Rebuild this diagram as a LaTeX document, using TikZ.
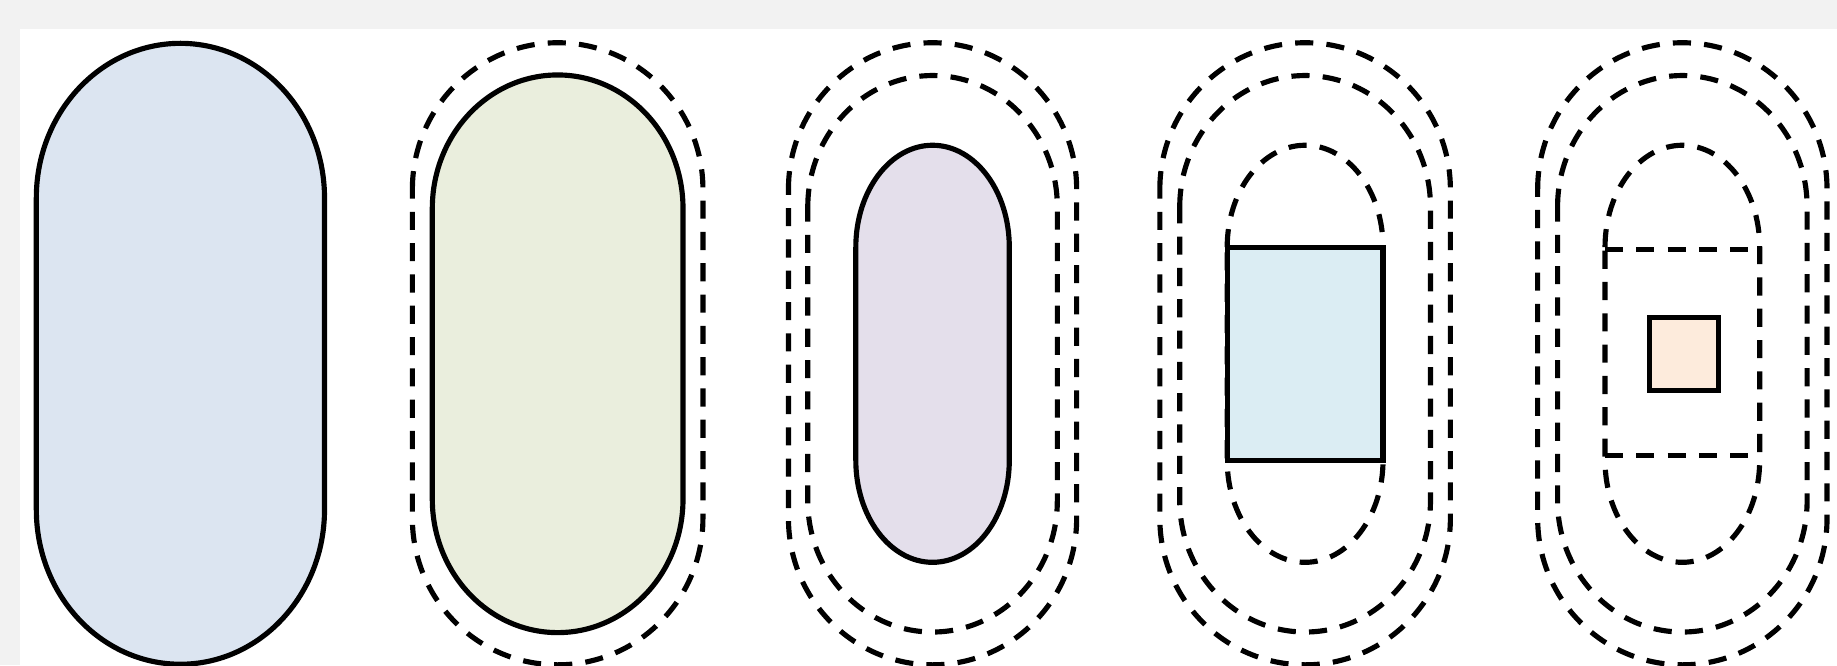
\documentclass[tikz,border=0pt]{standalone}
\usepackage{tikz}
\usetikzlibrary{calc}

\definecolor{fond}{HTML}{F2F2F2}
\definecolor{capbleu}{HTML}{DCE5F1}
\definecolor{capvert}{HTML}{EAEEDD}
\definecolor{capmauve}{HTML}{E4DFEB}
\definecolor{rectbleu}{HTML}{DBEDF3}
\definecolor{rectorange}{HTML}{FDEBDC}

% gelule : centre x, rayon x, demi-hauteur, rayon y (centre y commun)
\newcommand{\gelule}[4]{%
  ({#1-#2},{266+#3-#4}) arc[start angle=180, end angle=0, x radius=#2, y radius=#4]
  -- ({#1+#2},{266-#3+#4}) arc[start angle=0, end angle=-180, x radius=#2, y radius=#4]
  -- cycle}

\begin{document}
\begin{tikzpicture}[
  x=0.01cm, y=0.01cm,
  plein/.style={draw=black, line width=1.25pt},
  tirets/.style={draw=black, line width=1.25pt, dash pattern=on 4.4pt off 3.2pt},
  coque/.style={tirets},
  noyau/.style={plein}
]
  % fond
  \useasboundingbox (0,0) rectangle (1568,568);
  \fill[fond] (0,0) rectangle (1568,568);
  \fill[white] (17,0) rectangle (1568,543);

  % 1 : gelule seule
  \draw[noyau, fill=capbleu] \gelule{154}{123}{265}{132};

  % 2 : une enveloppe
  \draw[coque] \gelule{476}{124}{265.5}{125};
  \draw[noyau, fill=capvert] \gelule{476}{107}{238}{114};

  % 3 : deux enveloppes
  \foreach \r/\h/\ry in {123/265.5/125, 106.5/237.5/112} {
    \draw[coque] \gelule{796}{\r}{\h}{\ry};
  }
  \draw[noyau, fill=capmauve] \gelule{796}{65.5}{178}{87};

  % 4 : deux enveloppes + coeur
  \foreach \r/\h/\ry in {124/265.5/125, 107/237.5/112, 66.5/178/87} {
    \draw[coque] \gelule{1114}{\r}{\h}{\ry};
  }
  \draw[noyau, fill=rectbleu] (1047.5,175) rectangle (1180.5,357);

  % 5 : deux enveloppes + coeur coupe
  \foreach \r/\h/\ry in {123.5/265.5/125, 106.5/237.5/112, 66/178/87} {
    \draw[coque] \gelule{1436}{\r}{\h}{\ry};
  }
  \draw[tirets] (1370,355) -- (1502,355);
  \draw[tirets] (1370,179) -- (1502,179);
  \draw[noyau, fill=rectorange] (1408,235) rectangle (1467,297);

\end{tikzpicture}
\end{document}
